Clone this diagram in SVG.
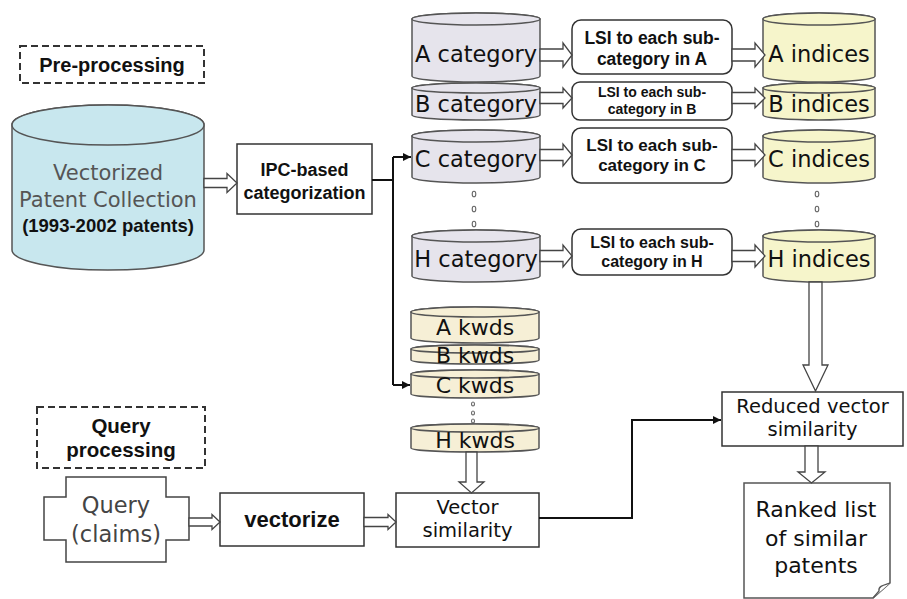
<svg xmlns="http://www.w3.org/2000/svg" width="907" height="599" viewBox="0 0 907 599">
<defs>
<style>
.reg{font-family:"DejaVu Sans",sans-serif;fill:#111;text-anchor:middle}
.bold{font-family:"Liberation Sans",Arial,sans-serif;font-weight:bold;fill:#111;text-anchor:middle}
.cyl{stroke:#555;stroke-width:1.5}
.box{fill:#fff;stroke:#333;stroke-width:1.5}
.dash{fill:none;stroke:#333;stroke-width:2;stroke-dasharray:7 4}
.harrow{fill:#fff;stroke:#444;stroke-width:1.3;stroke-linejoin:miter}
.conn{fill:none;stroke:#111;stroke-width:2}
.dot{fill:none;stroke:#666;stroke-width:1.1}
.gray{fill:#e6e4ec}
.yel{fill:#f6f5cb}
.cream{fill:#f6efd6}
</style>
<marker id="ah" viewBox="0 0 10 10" refX="10" refY="5" markerWidth="4" markerHeight="4" orient="auto" markerUnits="strokeWidth">
<path d="M0,0 L10,5 L0,10 Z" fill="#111"/>
</marker>
</defs>
<rect width="907" height="599" fill="#fff"/>

<g id="preprocessing-label">
<rect class="dash" x="20" y="46" width="184" height="37"/>
<text class="bold" x="112" y="72" font-size="20">Pre-processing</text>
</g>

<g id="patent-collection">
<path class="cyl" fill="#c8e7ee" d="M12,125 V250 A96,20 0 0 0 204,250 V125 A96,20 0 0 0 12,125 Z"/>
<ellipse class="cyl" fill="#c8e7ee" cx="108" cy="125" rx="96" ry="20"/>
<text class="reg" x="108" y="180" font-size="21" style="fill:#555">Vectorized</text>
<text class="reg" x="108" y="207" font-size="21" style="fill:#555">Patent Collection</text>
<text class="bold" x="108" y="232" font-size="18.5">(1993-2002 patents)</text>
</g>

<g id="ipc-categorization">
<rect class="box" x="237" y="144" width="135" height="70"/>
<text class="bold" x="304.5" y="176" font-size="18">IPC-based</text>
<text class="bold" x="304.5" y="199" font-size="18">categorization</text>
</g>

<g id="a-category">
<path class="cyl gray" d="M412,19 V76 A64,6 0 0 0 540,76 V19 A64,6 0 0 0 412,19 Z"/>
<ellipse class="cyl gray" cx="476" cy="19" rx="64" ry="6"/>
<text class="reg" x="476" y="62" font-size="22.5">A category</text>
</g>
<g id="b-category">
<path class="cyl gray" d="M412,88 V115 A64,5 0 0 0 540,115 V88 A64,5 0 0 0 412,88 Z"/>
<ellipse class="cyl gray" cx="476" cy="88" rx="64" ry="5"/>
<text class="reg" x="476" y="112" font-size="22.5">B category</text>
</g>
<g id="c-category">
<path class="cyl gray" d="M412,136 V177 A64,6 0 0 0 540,177 V136 A64,6 0 0 0 412,136 Z"/>
<ellipse class="cyl gray" cx="476" cy="136" rx="64" ry="6"/>
<text class="reg" x="476" y="167" font-size="22.5">C category</text>
</g>
<g id="h-category">
<path class="cyl gray" d="M412,236 V276 A64,6 0 0 0 540,276 V236 A64,6 0 0 0 412,236 Z"/>
<ellipse class="cyl gray" cx="476" cy="236" rx="64" ry="6"/>
<text class="reg" x="476" y="267" font-size="22.5">H category</text>
</g>

<g id="lsi-a">
<rect class="box" x="572" y="20" width="160" height="54" rx="9"/>
<text class="bold" x="652" y="44" font-size="17.5">LSI to each sub-</text>
<text class="bold" x="652" y="65" font-size="17.5">category in A</text>
</g>
<g id="lsi-b">
<rect class="box" x="572" y="82" width="160" height="38" rx="8"/>
<text class="bold" x="652" y="97" font-size="14">LSI to each sub-</text>
<text class="bold" x="652" y="114" font-size="14">category in B</text>
</g>
<g id="lsi-c">
<rect class="box" x="572" y="128" width="160" height="55" rx="9"/>
<text class="bold" x="652" y="151" font-size="17">LSI to each sub-</text>
<text class="bold" x="652" y="171" font-size="17">category in C</text>
</g>
<g id="lsi-h">
<rect class="box" x="572" y="229" width="160" height="46" rx="9"/>
<text class="bold" x="652" y="248" font-size="16">LSI to each sub-</text>
<text class="bold" x="652" y="267" font-size="16">category in H</text>
</g>

<g id="a-indices">
<path class="cyl yel" d="M763,19 V76 A56,6 0 0 0 875,76 V19 A56,6 0 0 0 763,19 Z"/>
<ellipse class="cyl yel" cx="819" cy="19" rx="56" ry="6"/>
<text class="reg" x="819" y="62" font-size="22.5">A indices</text>
</g>
<g id="b-indices">
<path class="cyl yel" d="M763,88 V115 A56,5 0 0 0 875,115 V88 A56,5 0 0 0 763,88 Z"/>
<ellipse class="cyl yel" cx="819" cy="88" rx="56" ry="5"/>
<text class="reg" x="819" y="112" font-size="22.5">B indices</text>
</g>
<g id="c-indices">
<path class="cyl yel" d="M763,136 V177 A56,6 0 0 0 875,177 V136 A56,6 0 0 0 763,136 Z"/>
<ellipse class="cyl yel" cx="819" cy="136" rx="56" ry="6"/>
<text class="reg" x="819" y="167" font-size="22.5">C indices</text>
</g>
<g id="h-indices">
<path class="cyl yel" d="M763,236 V276 A56,6 0 0 0 875,276 V236 A56,6 0 0 0 763,236 Z"/>
<ellipse class="cyl yel" cx="819" cy="236" rx="56" ry="6"/>
<text class="reg" x="819" y="267" font-size="22.5">H indices</text>
</g>

<g id="ellipsis-dots">
<ellipse class="dot" cx="474" cy="194" rx="1.8" ry="2.8"/>
<ellipse class="dot" cx="474" cy="209" rx="1.8" ry="2.8"/>
<ellipse class="dot" cx="474" cy="224" rx="1.8" ry="2.8"/>
<ellipse class="dot" cx="817" cy="194" rx="1.8" ry="2.8"/>
<ellipse class="dot" cx="817" cy="209" rx="1.8" ry="2.8"/>
<ellipse class="dot" cx="817" cy="224" rx="1.8" ry="2.8"/>
<ellipse class="dot" cx="473" cy="404" rx="1.5" ry="2"/>
<ellipse class="dot" cx="473" cy="413" rx="1.5" ry="2"/>
<ellipse class="dot" cx="473" cy="421" rx="1.5" ry="2"/>
</g>

<g id="a-kwds">
<path class="cyl cream" d="M411,312 V338 A64,5 0 0 0 539,338 V312 A64,5 0 0 0 411,312 Z"/>
<ellipse class="cyl cream" cx="475" cy="312" rx="64" ry="5"/>
<text class="reg" x="475" y="335" font-size="22">A kwds</text>
</g>
<g id="b-kwds">
<path class="cyl cream" d="M411,349 V360 A64,4 0 0 0 539,360 V349 A64,4 0 0 0 411,349 Z"/>
<ellipse class="cyl cream" cx="475" cy="349" rx="64" ry="4"/>
<text class="reg" x="475" y="363" font-size="22">B kwds</text>
</g>
<g id="c-kwds">
<path class="cyl cream" d="M411,374 V394 A64,4 0 0 0 539,394 V374 A64,4 0 0 0 411,374 Z"/>
<ellipse class="cyl cream" cx="475" cy="374" rx="64" ry="4"/>
<text class="reg" x="475" y="393" font-size="22">C kwds</text>
</g>
<g id="h-kwds">
<path class="cyl cream" d="M411,428 V448 A64,4 0 0 0 539,448 V428 A64,4 0 0 0 411,428 Z"/>
<ellipse class="cyl cream" cx="475" cy="428" rx="64" ry="4"/>
<text class="reg" x="475" y="448" font-size="22">H kwds</text>
</g>

<g id="query-label">
<rect class="dash" x="37" y="407" width="168" height="61"/>
<text class="bold" x="121" y="433" font-size="20.5">Query</text>
<text class="bold" x="121" y="457" font-size="20.5">processing</text>
</g>

<g id="query-claims">
<polygon class="box" style="stroke:#444" points="66,477 166,477 166,497 189,497 189,540 166,540 166,562 66,562 66,540 44,540 44,497 66,497"/>
<text class="reg" x="116" y="513" font-size="22.5" style="fill:#444">Query</text>
<text class="reg" x="116" y="542" font-size="22.5" style="fill:#444">(claims)</text>
</g>

<g id="vectorize">
<rect class="box" x="220" y="493" width="144" height="53"/>
<text class="bold" x="292" y="527" font-size="22">vectorize</text>
</g>

<g id="vector-similarity">
<rect class="box" x="396" y="493" width="143" height="54"/>
<text class="reg" x="467.5" y="514" font-size="19.5">Vector</text>
<text class="reg" x="467.5" y="537" font-size="19.5">similarity</text>
</g>

<g id="reduced-vector-similarity">
<rect class="box" x="722" y="392" width="181" height="54"/>
<text class="reg" x="812.5" y="413" font-size="19.5">Reduced vector</text>
<text class="reg" x="812.5" y="436" font-size="19.5">similarity</text>
</g>

<g id="ranked-list">
<path class="box" style="stroke:#555" d="M744,483 H890 V583 L873,598 H744 Z"/>
<path fill="#fff" stroke="#555" stroke-width="1.3" d="M890,583 C884,585 878,586 879,591 L873,598"/>
<text class="reg" x="816" y="517" font-size="22">Ranked list</text>
<text class="reg" x="816" y="546" font-size="22">of similar</text>
<text class="reg" x="816" y="573" font-size="22">patents</text>
</g>

<g id="connectors">
<polygon class="harrow" points="204,178.5 227,178.5 227,173.5 237,183 227,192.5 227,187.5 204,187.5"/>
<polygon class="harrow" points="540,49 563,49 563,43 572,55 563,67 563,61 540,61"/>
<polygon class="harrow" points="540,92.5 563,92.5 563,88 572,98 563,108 563,103.5 540,103.5"/>
<polygon class="harrow" points="540,149.5 563,149.5 563,144 572,155 563,166 563,160.5 540,160.5"/>
<polygon class="harrow" points="540,250.5 563,250.5 563,245 572,256 563,267 563,261.5 540,261.5"/>
<polygon class="harrow" points="732,49 755,49 755,43 765,55 755,67 755,61 732,61"/>
<polygon class="harrow" points="732,92.5 755,92.5 755,88 765,98 755,108 755,103.5 732,103.5"/>
<polygon class="harrow" points="732,149.5 755,149.5 755,144 765,155 755,166 755,160.5 732,160.5"/>
<polygon class="harrow" points="732,250.5 755,250.5 755,245 765,256 755,267 755,261.5 732,261.5"/>
<polygon class="harrow" points="809,282 809,365 803,365 815.5,391 828,365 822,365 822,282"/>
<polygon class="harrow" points="805,446 805,472 798,472 811.5,483 825,472 818,472 818,446"/>
<polygon class="harrow" points="466,452 466,482 459,482 471.5,493 484,482 477,482 477,452"/>
<polygon class="harrow" points="189,518 212,518 212,514.5 220,522 212,529.5 212,526 189,526"/>
<polygon class="harrow" points="364,517.5 388,517.5 388,514.5 396,522 388,529.5 388,526.5 364,526.5"/>
<path class="conn" d="M372,180 H393"/>
<path class="conn" d="M393,157 V385"/>
<path class="conn" d="M393,157 H411" marker-end="url(#ah)"/>
<path class="conn" d="M393,385 H410" marker-end="url(#ah)"/>
<path class="conn" d="M539,518 H632 V420 H721" marker-end="url(#ah)"/>
</g>
</svg>
